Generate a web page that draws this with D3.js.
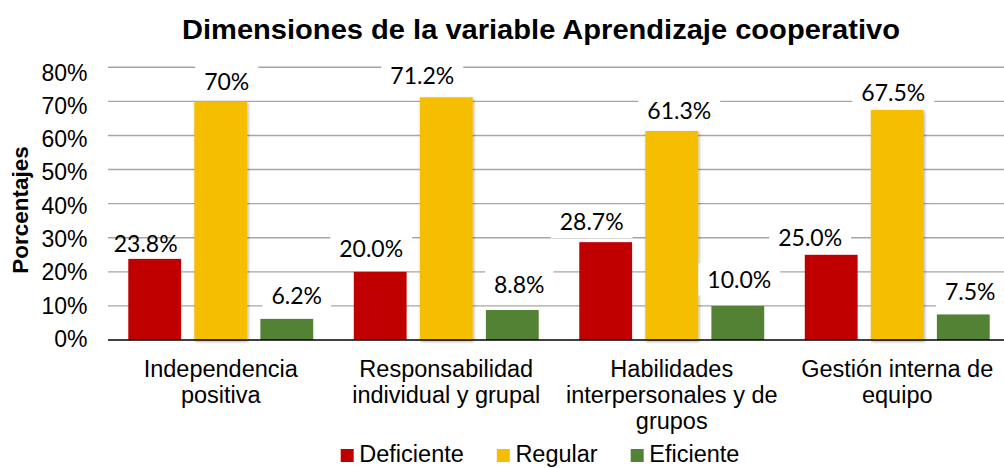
<!DOCTYPE html>
<html>
<head>
<meta charset="utf-8">
<script src="https://cdn.jsdelivr.net/npm/d3@7/dist/d3.min.js"></script>
<style>
  html, body { margin: 0; padding: 0; background: #fff; }
  svg { display: block; }
</style>
</head>
<body>
<svg id="chart" width="1004" height="468"></svg>
<script>
// ---------- data ----------
const title = "Dimensiones de la variable Aprendizaje cooperativo";
const yTitle = "Porcentajes";
const categories = ["Independencia positiva", "Responsabilidad individual y grupal", "Habilidades interpersonales y de grupos", "Gestión interna de equipo"];
const categoryLines = [["Independencia", "positiva"], ["Responsabilidad", "individual y grupal"], ["Habilidades", "interpersonales y de", "grupos"], ["Gestión interna de", "equipo"]];
const seriesNames = ["Deficiente", "Regular", "Eficiente"];
const deficiente = [23.8, 20.0, 28.7, 25.0];
const regular = [70, 71.2, 61.3, 67.5];
const eficiente = [6.2, 8.8, 10.0, 7.5];
const deficienteLabels = ["23.8%", "20.0%", "28.7%", "25.0%"];
const regularLabels = ["70%", "71.2%", "61.3%", "67.5%"];
const eficienteLabels = ["6.2%", "8.8%", "10.0%", "7.5%"];
const yTicks = [0, 10, 20, 30, 40, 50, 60, 70, 80];
const yTickLabels = ["0%", "10%", "20%", "30%", "40%", "50%", "60%", "70%", "80%"];

// ---------- styling / layout ----------
const colors = ["#C00000", "#F6BE00", "#548235"];
// manual label nudges (dx, dy) per series per category, as placed in original
const labelNudge = [
  [[-9, 4.4], [-9, -3], [-14, 0], [-21, 2.7]],
  [[6, 0], [-24, -1.5], [7.5, 0], [-4, 2.5]],
  [[10, -3], [7, -5], [1.5, -6.5], [7, -3]]
];
const labelNoBox = [[true, false, false, false], [false, false, false, false], [false, false, false, false]];

const svg = d3.select("#chart");
const W = 1004, H = 468;
const plotLeft = 108, plotRight = 1010, plotTop = 67.3, plotBottom = 340;

const values = [deficiente, regular, eficiente];
const labels = [deficienteLabels, regularLabels, eficienteLabels];

const x0 = d3.scaleBand().domain(categories).range([plotLeft, plotRight]).padding(0);
const x1 = d3.scaleBand().domain(seriesNames).range([0, x0.bandwidth()]).paddingInner(0.2).paddingOuter(0.307);
const y = d3.scaleLinear().domain([0, 80]).range([plotBottom, plotTop]);
const yLab = d3.scaleLinear().domain([0, 80]).range([347, 80.5]);

const defs = svg.append("defs");
const f = defs.append("filter").attr("id", "shadow").attr("x", "-20%").attr("y", "-20%").attr("width", "140%").attr("height", "140%");
f.append("feDropShadow").attr("dx", 1).attr("dy", 1.5).attr("stdDeviation", 1.8).attr("flood-color", "#000").attr("flood-opacity", 0.35);

// gridlines
svg.append("g").selectAll("line").data(yTicks.filter(d => d > 0)).join("line")
  .attr("x1", plotLeft).attr("x2", W)
  .attr("y1", d => y(d)).attr("y2", d => y(d))
  .attr("stroke", "#a6a6a6").attr("stroke-width", 1.4);

// y tick labels
svg.append("g").selectAll("text").data(yTicks).join("text")
  .attr("x", 87.5).attr("y", d => yLab(d))
  .attr("text-anchor", "end")
  .attr("font-family", "'Liberation Sans', Arial, sans-serif")
  .attr("font-size", 23).attr("fill", "#000")
  .text((d, i) => yTickLabels[i]);

// bars
const barData = [];
seriesNames.forEach((s, si) => {
  categories.forEach((c, ci) => {
    barData.push({ s, si, c, ci, v: values[si][ci], label: labels[si][ci] });
  });
});
svg.append("g").selectAll("rect").data(barData).join("rect")
  .attr("x", d => x0(d.c) + x1(d.s))
  .attr("y", d => y(d.v))
  .attr("width", x1.bandwidth())
  .attr("height", d => y(0) - y(d.v))
  .attr("fill", d => colors[d.si])
  .attr("filter", d => d.si === 1 ? "url(#shadow)" : null);

// axis line
svg.append("line").attr("x1", plotLeft).attr("x2", W).attr("y1", y(0)).attr("y2", y(0))
  .attr("stroke", "#000").attr("stroke-width", 1.5);

// data labels
const lg = svg.append("g");
barData.forEach(d => {
  const [dx, dy] = labelNudge[d.si][d.ci];
  const cx = x0(d.c) + x1(d.s) + x1.bandwidth() / 2 + dx;
  const cy = y(d.v) - 20 + dy;
  const g = lg.append("g");
  const t = g.append("text")
    .attr("x", cx).attr("y", cy + 8.3)
    .attr("text-anchor", "middle")
    .attr("font-family", "Lato, 'Open Sans', sans-serif")
    .attr("font-size", 23).attr("fill", "#000")
    .text(d.label);
  if (!labelNoBox[d.si][d.ci]) {
    const bw = t.node().getComputedTextLength() + 18;
    g.insert("rect", "text").attr("x", cx - bw / 2).attr("y", cy - 16).attr("width", bw).attr("height", 32).attr("fill", "#fff");
  }
});

// category labels
const cg = svg.append("g");
categories.forEach((c, ci) => {
  const t = cg.append("text")
    .attr("x", x0(c) + x0.bandwidth() / 2)
    .attr("y", 376.7)
    .attr("text-anchor", "middle")
    .attr("font-family", "'Liberation Sans', Arial, sans-serif")
    .attr("font-size", 23.5).attr("fill", "#000");
  categoryLines[ci].forEach((ln, li) => {
    t.append("tspan").attr("x", x0(c) + x0.bandwidth() / 2).attr("dy", li === 0 ? 0 : 26).text(ln);
  });
});

// title
svg.append("text").attr("x", 541).attr("y", 39).attr("text-anchor", "middle")
  .attr("font-family", "'Liberation Sans', Arial, sans-serif").attr("font-weight", "bold")
  .attr("font-size", 27).attr("textLength", 718).attr("lengthAdjust", "spacingAndGlyphs")
  .attr("fill", "#000").text(title);

// y title
svg.append("text").attr("transform", "translate(27.5,210) rotate(-90)").attr("text-anchor", "middle")
  .attr("font-family", "'Liberation Sans', Arial, sans-serif").attr("font-weight", "bold")
  .attr("font-size", 22.5).attr("fill", "#000").text(yTitle);

// legend
const leg = svg.append("g");
let lx = 340.7;
seriesNames.forEach((s, si) => {
  leg.append("rect").attr("x", lx).attr("y", 449).attr("width", 13).attr("height", 13).attr("fill", colors[si]);
  const t = leg.append("text").attr("x", lx + 18.6).attr("y", 462)
    .attr("font-family", "'Liberation Sans', Arial, sans-serif")
    .attr("font-size", 23.5).attr("fill", "#000").text(s);
  lx = lx + 18.6 + t.node().getComputedTextLength() + 33;
});
</script>
</body>
</html>
